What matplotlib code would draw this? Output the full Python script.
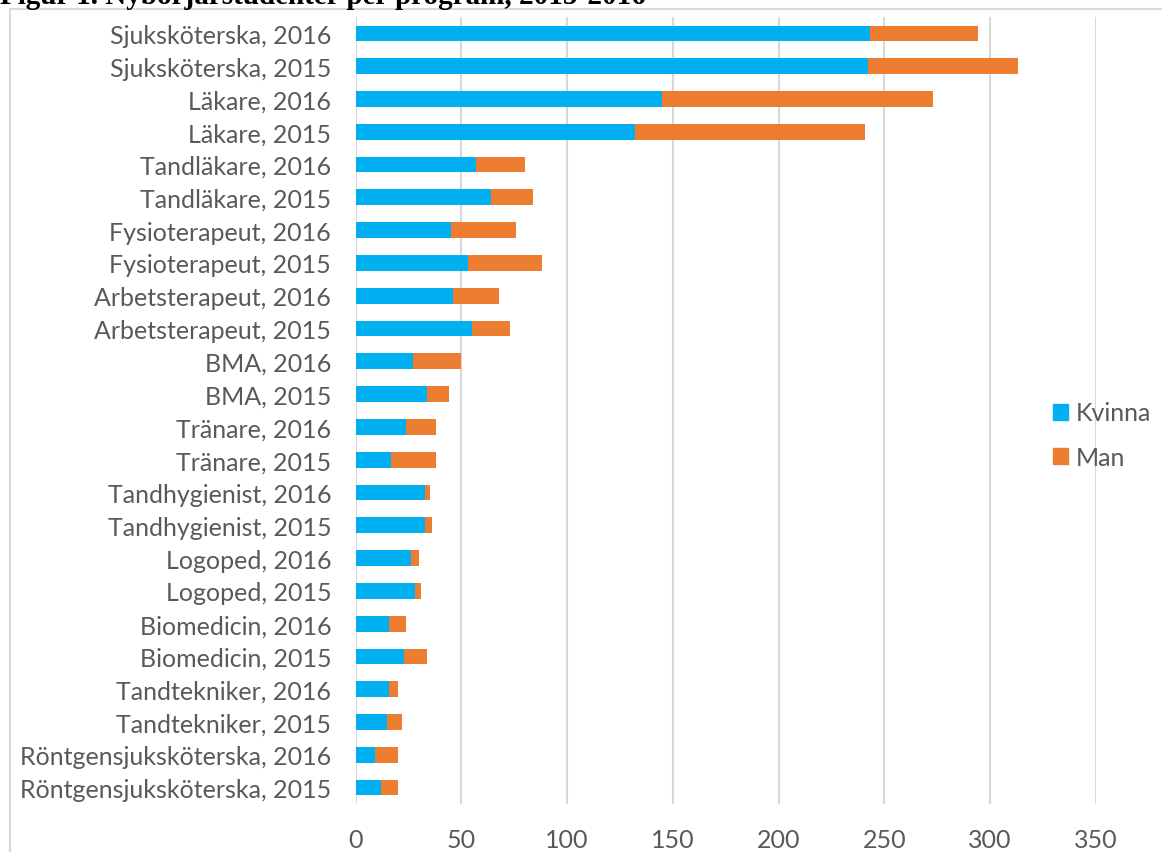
import numpy as np
import matplotlib.pyplot as plt
from matplotlib.patches import Rectangle, Patch

# Programs, listed top to bottom as in the chart
programs = [
    "Sjuksköterska, 2016", "Sjuksköterska, 2015",
    "Läkare, 2016", "Läkare, 2015",
    "Tandläkare, 2016", "Tandläkare, 2015",
    "Fysioterapeut, 2016", "Fysioterapeut, 2015",
    "Arbetsterapeut, 2016", "Arbetsterapeut, 2015",
    "BMA, 2016", "BMA, 2015",
    "Tränare, 2016", "Tränare, 2015",
    "Tandhygienist, 2016", "Tandhygienist, 2015",
    "Logoped, 2016", "Logoped, 2015",
    "Biomedicin, 2016", "Biomedicin, 2015",
    "Tandtekniker, 2016", "Tandtekniker, 2015",
    "Röntgensjuksköterska, 2016", "Röntgensjuksköterska, 2015",
]
kvinna = [243, 242, 145, 132, 57, 64, 45, 53, 46, 55, 27, 34,
          24, 17, 33, 33, 26, 28, 16, 23, 16, 15, 9, 12]
man = [51, 71, 128, 109, 23, 20, 31, 35, 22, 18, 23, 10,
       14, 21, 2, 3, 4, 3, 8, 11, 4, 7, 11, 8]
xticks = [0, 50, 100, 150, 200, 250, 300, 350]

BLUE = "#00B0F0"
ORANGE = "#ED7D31"
GRID = "#D9D9D9"
TXT = "#595959"
FONT = "Lato"
FS = 18

fig = plt.figure(figsize=(11.62, 8.53), dpi=100)
W, H = 1162, 853
ax = fig.add_axes([355.5 / W, 1 - 805 / H, (1096 - 355.5) / W, (805 - 18) / H])

y = np.arange(len(programs))
ax.barh(y, kvinna, height=0.48, color=BLUE, label="Kvinna", zorder=3)
ax.barh(y, man, left=kvinna, height=0.48, color=ORANGE, label="Man", zorder=3)

ax.set_xlim(0, 350)
ax.set_ylim(len(programs) - 0.5, -0.5)
ax.set_xticks(xticks)
ax.set_yticks(y)
ax.set_yticklabels(programs)
ax.grid(axis="x", color=GRID, linewidth=1.5, zorder=0)
for s in ax.spines.values():
    s.set_visible(False)
ax.tick_params(length=0, labelsize=FS, labelcolor=TXT)
ax.tick_params(axis="y", pad=17.5)
ax.tick_params(axis="x", pad=17)
for lab in ax.get_xticklabels() + ax.get_yticklabels():
    lab.set_fontfamily(FONT)

handles = [Patch(color=BLUE, label="Kvinna"), Patch(color=ORANGE, label="Man")]
fig.legend(handles=handles, loc="center left", bbox_to_anchor=(1053 / W, 1 - 436 / H),
           frameon=False, borderpad=0, borderaxespad=0,
           handlelength=0.6, handleheight=0.6, handletextpad=0.3,
           labelspacing=0.85, prop={"family": FONT, "size": FS}, labelcolor=TXT)

# chart frame (cut off at right and bottom)
fig.patches.append(Rectangle((10 / W, -0.05), 1.1, 1 - 10 / H + 0.05,
                             transform=fig.transFigure, fill=False,
                             edgecolor=GRID, linewidth=1.5))

# caption above the chart, partly cut off
fig.text(0.0, 1 - 4.5 / H, "Figur 1. Nybörjarstudenter per program, 2015-2016",
         family="Liberation Serif", weight="bold", fontsize=21, va="baseline", ha="left")

fig.savefig("out.png", dpi=100)
